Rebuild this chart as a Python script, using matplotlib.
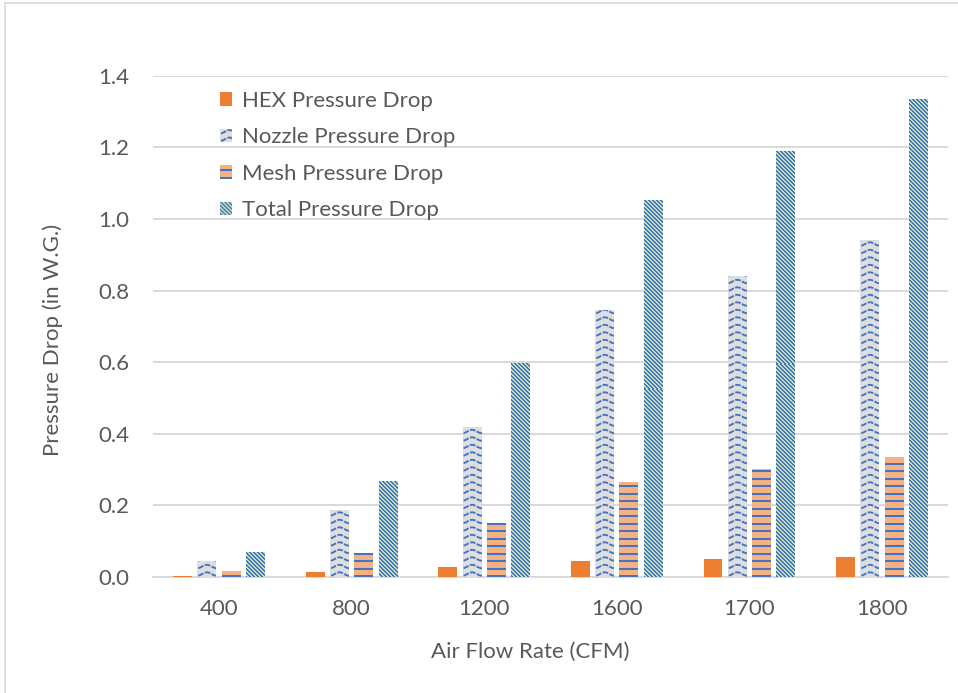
import matplotlib
matplotlib.use("Agg")
import matplotlib.pyplot as plt
import numpy as np
from matplotlib.colors import to_rgb
from matplotlib.legend_handler import HandlerBase
from matplotlib.lines import Line2D
from matplotlib.patches import Rectangle

# pressure drop data (in W.G.) per air flow rate
flow_rates = ["400", "800", "1200", "1600", "1700", "1800"]
hex_drop = [0.003, 0.014, 0.028, 0.045, 0.050, 0.056]
nozzle_drop = [0.046, 0.187, 0.418, 0.745, 0.840, 0.940]
mesh_drop = [0.017, 0.067, 0.151, 0.265, 0.301, 0.335]
total_drop = [0.069, 0.268, 0.597, 1.054, 1.190, 1.334]

series_names = ["HEX Pressure Drop", "Nozzle Pressure Drop",
                "Mesh Pressure Drop", "Total Pressure Drop"]
y_ticks = [0.0, 0.2, 0.4, 0.6, 0.8, 1.0, 1.2, 1.4]

BLUE = "#4472c4"
TEXT = "#595959"
GRID = "#d9d9d9"
FS = 16

# fill colour, texture kind, texture line width (pt), dash pattern
styles = {
    "nozzle": ("#dedede", "wave", 1.35, (0, (3.0, 0.8))),
    "mesh": ("#f4b183", "hline", 1.45, "-"),
    "total": ("#c5e0b4", "diag", 0.95, "-"),
}

plt.rcParams["font.family"] = ["Lato", "DejaVu Sans"]


def texture_lines(kind, w, h):
    """Texture strokes in pixel units, relative to the patch's lower-left."""
    out = []
    if kind == "wave":
        period, amp, gap = 19.0, 1.7, 7.5
        xs = np.linspace(-period, w + period, 80)
        yv = 3.0
        while yv < h + gap:
            out.append((xs, yv - amp * np.cos(2 * np.pi * xs / period)))
            yv += gap
    elif kind == "hline":
        yv = 1.0
        while yv < h + 2:
            out.append((np.array([-2, w + 2]), np.array([yv, yv])))
            yv += 7.5
    elif kind == "diag":
        c = -h - 4
        while c < w + 4:
            out.append((np.array([c, c + h + 4]), np.array([h + 2, -2])))
            c += 4.0
    return out


class TextureHandler(HandlerBase):
    def __init__(self, key):
        super().__init__()
        self.key = key

    def create_artists(self, legend, orig_handle, xdescent, ydescent,
                       width, height, fontsize, trans):
        fill, kind, lw, ls = styles[self.key]
        x0, y0 = -xdescent, -ydescent
        rect = Rectangle((x0, y0), width, height, facecolor=fill,
                         edgecolor="none", transform=trans)
        arts = [rect]
        # handle box works in points, texture in pixels
        k = 72 / 100
        for xs, ys in texture_lines(kind, width / k, height / k):
            ln = Line2D(x0 + xs * k, y0 + ys * k, color=BLUE, lw=lw, ls=ls,
                        transform=trans)
            ln.set_clip_path(rect)
            arts.append(ln)
        return arts


W, H = 958, 693
fig = plt.figure(figsize=(W / 100, H / 100), dpi=100)
ax_left, ax_right = 152.7, 948.3
ax_top, ax_bottom = 75.7, 577.0
ax = fig.add_axes([ax_left / W, 1 - ax_bottom / H,
                   (ax_right - ax_left) / W, (ax_bottom - ax_top) / H])

x = np.arange(len(flow_rates))
step = 0.183
width = 0.143
offsets = (np.arange(4) - 1.5) * step

px_x = len(flow_rates) / (ax_right - ax_left)
px_y = 1.4 / (ax_bottom - ax_top)


def textured_bars(xs, heights, key, label):
    fill, kind, lw, ls = styles[key]
    bars = ax.bar(xs, heights, width, color=fill, linewidth=0,
                  label=label, zorder=3)
    for bar in bars:
        bw = bar.get_width() / px_x
        bh = bar.get_height() / px_y
        if kind == "diag":
            # crisp pixel stripes, 2 px blue / 2 px fill, running "\"
            rows, cols = max(int(round(bh)), 1), max(int(round(bw)), 1)
            ii, jj = np.mgrid[0:rows, 0:cols]
            stripe = ((ii - jj) % 4) < 2
            img = np.where(stripe[..., None], to_rgb(BLUE), to_rgb(fill))
            im = ax.imshow(img, origin="upper", interpolation="nearest",
                           aspect="auto", zorder=4,
                           extent=(bar.get_x(), bar.get_x() + bar.get_width(),
                                   0, bar.get_height()))
            im.set_clip_path(bar)
            continue
        for tx, ty in texture_lines(kind, bw, bh):
            ln, = ax.plot(bar.get_x() + tx * px_x, ty * px_y, color=BLUE,
                          lw=lw, ls=ls, solid_capstyle="butt", zorder=4)
            ln.set_clip_path(bar)
    return bars


hex_bars = ax.bar(x + offsets[0], hex_drop, width, color="#ed7d31",
                  label=series_names[0], zorder=3)
nozzle_bars = textured_bars(x + offsets[1], nozzle_drop, "nozzle",
                            series_names[1])
mesh_bars = textured_bars(x + offsets[2], mesh_drop, "mesh", series_names[2])
total_bars = textured_bars(x + offsets[3], total_drop, "total",
                           series_names[3])

ax.set_xlim(-0.5, len(flow_rates) - 0.5)
ax.set_ylim(0, 1.4)

ax.set_yticks(y_ticks)
ax.set_yticklabels([f"{v:.1f}" for v in y_ticks])
ax.set_xticks(x)
ax.set_xticklabels(flow_rates)
ax.tick_params(axis="both", length=0, labelsize=FS, colors=TEXT)
ax.tick_params(axis="y", pad=17)
ax.tick_params(axis="x", pad=16)

ax.grid(axis="y", color=GRID, lw=1.4, zorder=0)
for side in ["top", "right", "left"]:
    ax.spines[side].set_visible(False)
ax.spines["bottom"].set_color(GRID)
ax.spines["bottom"].set_linewidth(1.4)
ax.spines["bottom"].set_zorder(2)

ax.set_xlabel("Air Flow Rate (CFM)", fontsize=FS, color=TEXT)
ax.set_ylabel("Pressure Drop (in W.G.)", fontsize=FS, color=TEXT)
ax.xaxis.set_label_coords((530 - ax_left) / (ax_right - ax_left),
                          (ax_bottom - 642) / (ax_bottom - ax_top))
ax.yaxis.set_label_coords((63 - ax_left) / (ax_right - ax_left),
                          (ax_bottom - 340) / (ax_bottom - ax_top))

leg = ax.legend(loc="upper left", bbox_to_anchor=(220 / W, 1 - 91 / H),
                bbox_transform=fig.transFigure, frameon=False,
                fontsize=FS, handlelength=0.55, handleheight=0.55,
                handletextpad=0.45, labelspacing=0.74, borderpad=0,
                borderaxespad=0, labelcolor=TEXT,
                handler_map={nozzle_bars: TextureHandler("nozzle"),
                             mesh_bars: TextureHandler("mesh"),
                             total_bars: TextureHandler("total")})

# outer chart border
fig.patches.append(Rectangle((5 / W, -0.1), 1.2, 1 - 3 / H + 0.1,
                             transform=fig.transFigure, fill=False,
                             edgecolor=GRID, lw=1.2))

fig.savefig("out.png", dpi=100)
